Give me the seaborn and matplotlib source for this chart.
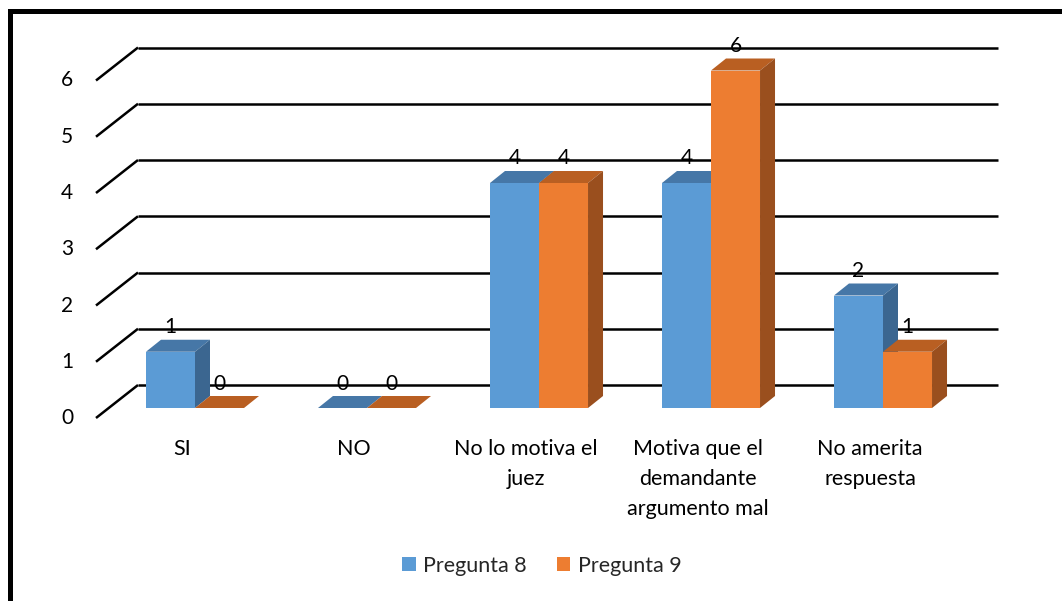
import numpy as np
import pandas as pd
import seaborn as sns
import matplotlib
matplotlib.use("Agg")
import matplotlib.pyplot as plt
from matplotlib.patches import Polygon, Rectangle

# ---- data -----------------------------------------------------------------
categories = ["SI", "NO", "No lo motiva el\njuez",
              "Motiva que el\ndemandante\nargumento mal", "No amerita\nrespuesta"]
series = ["Pregunta 8", "Pregunta 9"]
pregunta_8 = [1, 0, 4, 4, 2]
pregunta_9 = [0, 0, 4, 6, 1]
y_ticks = [0, 1, 2, 3, 4, 5, 6]

front_colors = {"Pregunta 8": "#5B9BD5", "Pregunta 9": "#ED7D31"}
top_colors = {"Pregunta 8": "#4677A7", "Pregunta 9": "#B95F22"}
side_colors = {"Pregunta 8": "#3B6690", "Pregunta 9": "#9A4F1E"}

df = pd.DataFrame({
    "categoria": categories * 2,
    "serie": [series[0]] * len(categories) + [series[1]] * len(categories),
    "valor": pregunta_8 + pregunta_9,
})

# ---- figure ---------------------------------------------------------------
W, H, DPI = 1062, 601, 100
sns.set_theme(style="white")
plt.rcParams["font.family"] = ["Lato", "DejaVu Sans"]
fig = plt.figure(figsize=(W / DPI, H / DPI), dpi=DPI)
fig.patch.set_facecolor("white")
ax = fig.add_axes([0, 0, 1, 1])

# linear scales: 172 px per category, 56.25 px per unit
PX_X, PX_Y = 172.0, 56.25

def set_limits():
    ax.set_xlim(-195 / PX_X, (W - 195) / PX_X)
    ax.set_ylim(-(H - 408) / PX_Y, 408 / PX_Y)
    ax.set_axis_off()

def off(px, py):
    """pixel offset -> data offset"""
    return px / PX_X, py / PX_Y

set_limits()
BAR_DEPTH = off(15, 12)
FRONT = off(-13, -10)
BACK = off(29, 23)
x_lo, x_hi = -0.5, len(categories) - 0.5
NUM_FS, TXT_FS = 15, 15.5

# back wall gridlines and the left floor diagonals
for v in y_ticks:
    ax.plot([x_lo + BACK[0], x_hi + BACK[0]], [v + BACK[1]] * 2,
            color="black", lw=1.8, zorder=1, solid_capstyle="butt")
    ax.plot([x_lo + FRONT[0], x_lo + BACK[0]], [v + FRONT[1], v + BACK[1]],
            color="black", lw=1.8, zorder=1, solid_capstyle="butt")
    ax.text(x_lo + FRONT[0] + off(-23, 0)[0], v + FRONT[1], str(v),
            ha="right", va="center", fontsize=NUM_FS, color="black")

# front faces of the bars
sns.barplot(data=df, x="categoria", y="valor", hue="serie", order=categories,
            hue_order=series, palette=front_colors, width=0.57, gap=0,
            saturation=1, linewidth=0, legend=False, ax=ax)
set_limits()

dx, dy = BAR_DEPTH
for k, (name, cont) in enumerate(zip(series, ax.containers)):
    z = 2 + k
    for bar in cont:
        bar.set_zorder(z)
        x0, w, h = bar.get_x(), bar.get_width(), bar.get_height()
        top = [(x0, h), (x0 + w, h), (x0 + w + dx, h + dy), (x0 + dx, h + dy)]
        ax.add_patch(Polygon(top, closed=True, facecolor=top_colors[name],
                             edgecolor="none", zorder=z + 0.1))
        if h > 0:
            side = [(x0 + w, 0), (x0 + w + dx, dy), (x0 + w + dx, h + dy), (x0 + w, h)]
            ax.add_patch(Polygon(side, closed=True, facecolor=side_colors[name],
                                 edgecolor="none", zorder=z + 0.1))
        ax.text(x0 + w / 2, h + off(0, 24.5)[1], f"{h:g}", ha="center",
                va="center", fontsize=NUM_FS, color="black", zorder=10)

# category labels on the front edge of the floor
for i, lab in enumerate(categories):
    ax.text(i + FRONT[0], FRONT[1] + off(0, -21)[1], lab, ha="center", va="top",
            fontsize=TXT_FS, linespacing=1.62, color="black")

# legend
handles = [Rectangle((0, 0), 1, 1, facecolor=front_colors[s], edgecolor="none")
           for s in series]
fig.legend(handles, series, loc="center", bbox_to_anchor=(542 / W, 1 - 566 / H),
           ncol=2, frameon=False, fontsize=TXT_FS, handlelength=0.62,
           handleheight=0.62, handletextpad=0.35, columnspacing=1.4)

# chart frame: heavy rule on the left and top
fig.add_artist(Rectangle((8 / W, 0), 5 / W, 1 - 9 / H, transform=fig.transFigure,
                         facecolor="black", edgecolor="none"))
fig.add_artist(Rectangle((8 / W, 1 - 14 / H), 1 - 8 / W, 5 / H,
                         transform=fig.transFigure, facecolor="black",
                         edgecolor="none"))

fig.savefig("out.png", dpi=DPI, facecolor="white")
